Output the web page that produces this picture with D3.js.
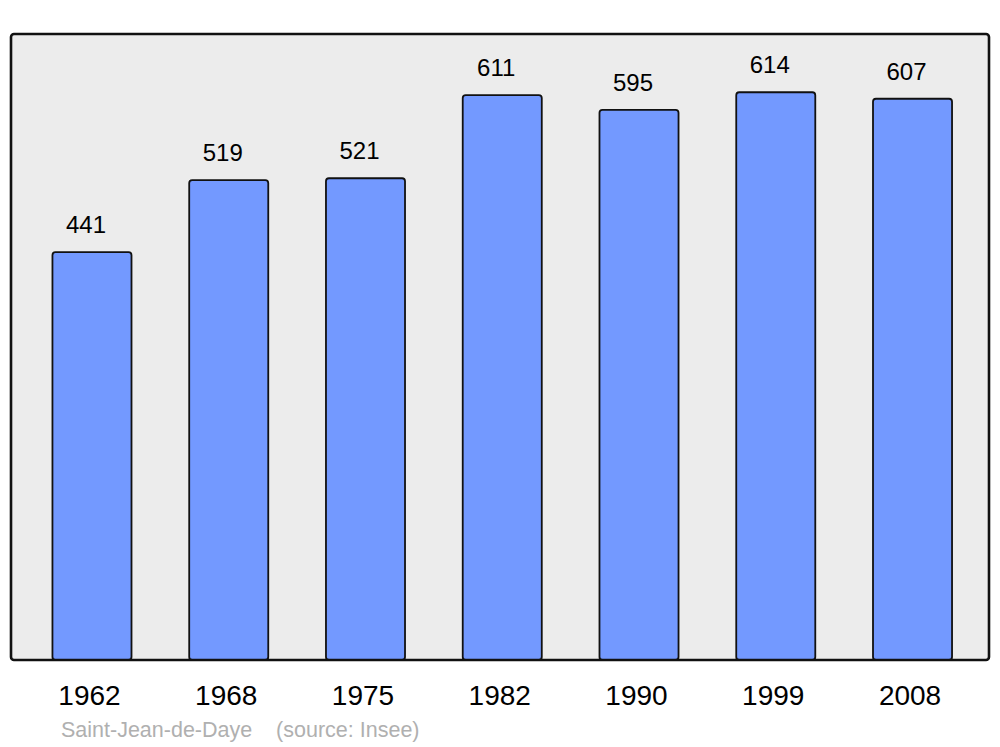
<!DOCTYPE html>
<html>
<head>
<meta charset="utf-8">
<script src="https://cdn.jsdelivr.net/npm/d3@7"></script>
<style>
  html, body { margin: 0; padding: 0; background: #fff; }
  svg { display: block; font-family: "Liberation Sans", Arial, sans-serif; }
</style>
</head>
<body>
<svg id="chart" width="1000" height="747"></svg>
<script>
const years = ["1962", "1968", "1975", "1982", "1990", "1999", "2008"];
const population = [441, 519, 521, 611, 595, 614, 607];
const caption = "Saint-Jean-de-Daye    (source: Insee)";

const svg = d3.select("#chart");
const frame = { left: 11, top: 34, right: 989, bottom: 660 };

svg.append("rect")
  .attr("x", frame.left).attr("y", frame.top)
  .attr("width", frame.right - frame.left).attr("height", frame.bottom - frame.top)
  .attr("rx", 3).attr("ry", 3)
  .attr("fill", "#ececec");

const x = d3.scaleBand()
  .domain(years)
  .range([23.6, 980.9])
  .paddingInner(0.422)
  .paddingOuter(0.211);

const y = d3.scaleLinear().domain([0, 677]).range([frame.bottom, frame.top]);

const data = years.map((yr, i) => ({ year: yr, value: population[i] }));

svg.append("g").selectAll("rect")
  .data(data)
  .join("rect")
  .attr("x", d => x(d.year))
  .attr("y", d => y(d.value))
  .attr("width", x.bandwidth())
  .attr("height", d => y(0) - y(d.value))
  .attr("rx", 3).attr("ry", 3)
  .attr("fill", "#7399ff")
  .attr("stroke", "#111")
  .attr("stroke-width", 1.8);

svg.append("g").selectAll("text")
  .data(data)
  .join("text")
  .attr("x", d => x(d.year) + x.bandwidth() / 2 - 6)
  .attr("y", d => y(d.value) - 19)
  .attr("text-anchor", "middle")
  .attr("font-size", 24)
  .attr("fill", "#000")
  .text(d => d.value);

// frame border on top
svg.append("rect")
  .attr("x", frame.left).attr("y", frame.top)
  .attr("width", frame.right - frame.left).attr("height", frame.bottom - frame.top)
  .attr("rx", 3).attr("ry", 3)
  .attr("fill", "none")
  .attr("stroke", "#111")
  .attr("stroke-width", 2.6);

const xAxis = d3.axisBottom(x).tickSize(0).tickPadding(0);
const gx = svg.append("g")
  .attr("transform", `translate(-2.5, 705)`)
  .call(xAxis);
gx.select(".domain").remove();
gx.selectAll("text")
  .attr("dy", 0)
  .attr("font-size", 28)
  .attr("font-family", "Liberation Sans, Arial, sans-serif")
  .attr("fill", "#000");

svg.append("text")
  .attr("x", 61).attr("y", 737)
  .attr("font-size", 21.5)
  .attr("fill", "#b0b0b0")
  .attr("xml:space", "preserve")
  .style("white-space", "pre")
  .text(caption);
</script>
</body>
</html>
